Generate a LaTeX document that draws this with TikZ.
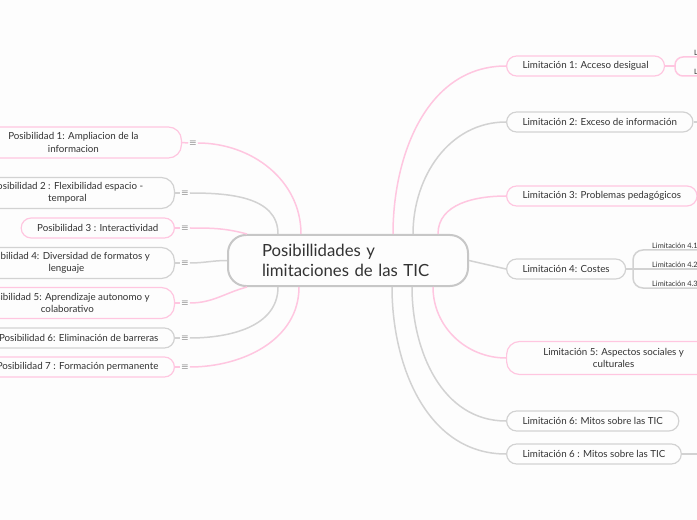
\documentclass[tikz,border=0pt]{standalone}
\usepackage{fontspec}
\setmainfont{Lato}
\usetikzlibrary{positioning}

\definecolor{rosa}{RGB}{255,198,224}
\definecolor{gris}{RGB}{210,210,210}
\definecolor{tinta}{RGB}{51,51,51}
\definecolor{fondo}{RGB}{253,253,253}

\tikzset{
	tema/.style={draw=gris, line width=1.2bp, rounded corners=10bp, fill=fondo, text=tinta, font=\fontsize{9.8}{12.5}\selectfont, inner xsep=16bp, inner ysep=2bp, minimum height=20bp, align=center},
	temarosa/.style={tema, draw=rosa},
	dosl/.style={minimum height=31bp, rounded corners=13bp},
	icono/.style={text=tinta, inner sep=1bp, font=\small},
	rama/.style={draw=gris, line width=1.5bp},
	ramarosa/.style={rama, draw=rosa},
	subtema/.style={text=tinta, font=\fontsize{7.4}{8}\selectfont, inner sep=1bp, anchor=south west},
}

\begin{document}
\begin{tikzpicture}[x=1bp, y=1bp]
	\useasboundingbox (0,0) rectangle (697,-520);
	\fill[fondo] (0,0) rectangle (697,-520);

	\node[draw=gris!95!black, line width=2bp, rounded corners=18bp, fill=fondo, text=tinta, minimum width=240bp, minimum height=51bp, text width=172bp, align=left, font=\fontsize{16.8}{20}\selectfont] (c) at (348,-260.5) {Posibillidades y\\limitaciones de las TIC};

	% posibilidades
	\node[temarosa, dosl, minimum width=216bp, anchor=east] (p1) at (182,-142.5) {Posibilidad 1: Ampliacion de la\\informacion};
	\node[tema, dosl, minimum width=214bp, anchor=east] (p2) at (175,-193) {Posibilidad 2 : Flexibilidad espacio -\\temporal};
	\node[temarosa, anchor=east] (p3) at (175,-228) {Posibilidad 3 : Interactividad};
	\node[tema, dosl, minimum width=216bp, anchor=east] (p4) at (175,-263) {Posibilidad 4: Diversidad de formatos y\\lenguaje};
	\node[temarosa, dosl, minimum width=214bp, anchor=east] (p5) at (175,-303) {Posibilidad 5: Aprendizaje autonomo y\\colaborativo};
	\node[tema, anchor=east] (p6) at (175,-338) {Posibilidad 6: Eliminación de barreras};
	\node[temarosa, anchor=east] (p7) at (175,-367) {Posibilidad 7 : Formación permanente};

	\node[icono] (i1) at (193,-143) {$\equiv$};
	\node[icono] (i2) at (185,-193) {$\equiv$};
	\node[icono] (i3) at (185,-228) {$\equiv$};
	\node[icono] (i4) at (185,-263) {$\equiv$};
	\node[icono] (i5) at (185,-303) {$\equiv$};
	\node[icono] (i6) at (185,-338) {$\equiv$};
	\node[icono] (i7) at (185,-367) {$\equiv$};

	% limitaciones
	\node[temarosa, anchor=west] (l1) at (506,-66) {Limitación 1: Acceso desigual};
	\node[tema, anchor=west] (l2) at (506,-122) {Limitación 2: Exceso de información};
	\node[temarosa, anchor=west] (l3) at (506,-196) {Limitación 3: Problemas pedagógicos};
	\node[tema, anchor=west] (l4) at (506,-269) {Limitación 4: Costes};
	\node[temarosa, dosl, minimum width=214bp, minimum height=33bp, anchor=west] (l5) at (506,-358) {Limitación 5: Aspectos sociales y\\culturales};
	\node[tema, anchor=west] (l6) at (506,-421) {Limitación 6: Mitos sobre las TIC};
	\node[tema, anchor=west] (l7) at (506,-454) {Limitación 6 : Mitos sobre las TIC};

	\node[subtema] (s11) at (693,-57) {Limitación 1.1};
	\node[subtema] (s12) at (693,-76) {Limitación 1.2};
	\node[subtema] (s41) at (651,-250) {Limitación 4.1};
	\node[subtema] (s42) at (651,-269) {Limitación 4.2};
	\node[subtema] (s43) at (651,-288) {Limitación 4.3};

	\coordinate (b1) at (675,-66);
	\coordinate (f2) at (700,-122);
	\coordinate (f4) at (720,-269);
	\coordinate (f7) at (700,-454);

	\draw[ramarosa] (p1.east) -- (i1.west);
	\draw[rama] (p2.east) -- (i2.west);
	\draw[ramarosa] (p3.east) -- (i3.west);
	\draw[rama] (p4.east) -- (i4.west);
	\draw[ramarosa] (p5.east) -- (i5.west);
	\draw[rama] (p6.east) -- (i6.west);
	\draw[ramarosa] (p7.east) -- (i7.west);

	\draw[ramarosa] (i1.east) to[out=0, in=90] ([xshift=74bp]c.north west);
	\draw[rama] (i2.east) to[out=0, in=90] ([xshift=51bp]c.north west);
	\draw[ramarosa] (i3.east) to[out=0, in=165] ([xshift=20bp]c.north west);
	\draw[rama] (i4.east) to[out=0, in=180] (c.west);
	\draw[ramarosa] (i5.east) to[out=0, in=195] ([xshift=20bp]c.south west);
	\draw[rama] (i6.east) to[out=0, in=-90] ([xshift=51bp]c.south west);
	\draw[ramarosa] (i7.east) to[out=0, in=-90] ([xshift=72bp]c.south west);

	\draw[ramarosa] ([xshift=166bp]c.north west) to[out=90, in=180] (l1.west);
	\draw[rama] ([xshift=186bp]c.north west) to[out=90, in=180] (l2.west);
	\draw[ramarosa] ([xshift=211bp]c.north west) to[out=90, in=180] (l3.west);
	\draw[rama] (c.east) -- (l4.west);
	\draw[ramarosa] ([xshift=206bp]c.south west) to[out=-90, in=180] (l5.west);
	\draw[rama] ([xshift=185bp]c.south west) to[out=-90, in=180] (l6.west);
	\draw[rama] ([xshift=165bp]c.south west) to[out=-90, in=180] (l7.west);

	\draw[ramarosa] (l1.east) -- (b1);
	\draw[ramarosa, rounded corners=8bp] (s11.south east) -- (675,-57) -- (675,-76) -- (s12.south east);
	\draw[rama] (l2.east) -- (f2);
	\draw[rama] (l4.east) -- (f4);
	\draw[rama, rounded corners=10bp] (s41.south east) -- (633,-250) -- (633,-288) -- (s43.south east);
	\draw[rama] (l7.east) -- (f7);
\end{tikzpicture}
\end{document}
